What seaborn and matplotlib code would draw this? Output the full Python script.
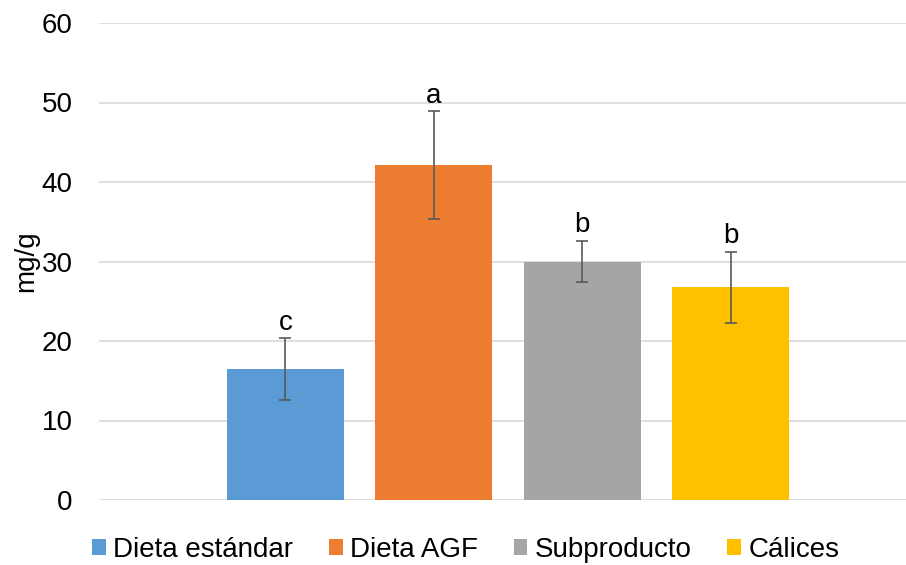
import matplotlib
matplotlib.use("Agg")
import matplotlib.pyplot as plt
import seaborn as sns
import pandas as pd

# Mean mg/g per diet, standard deviation and significance letters
series = ["Dieta estándar", "Dieta AGF", "Subproducto", "Cálices"]
means = [16.45, 42.1, 30.0, 26.75]
errors = [3.9, 6.8, 2.6, 4.5]
letters = ["c", "a", "b", "b"]
colors = ["#5B9BD5", "#ED7D31", "#A5A5A5", "#FFC000"]
yticks = [0, 10, 20, 30, 40, 50, 60]

sns.set_theme(style="white")
plt.rcParams["font.family"] = ["Liberation Sans", "DejaVu Sans"]

df = pd.DataFrame({"grupo": [""] * len(series), "serie": series, "valor": means})

fig = plt.figure(figsize=(9.06, 5.65), dpi=100)
ax = fig.add_axes([99 / 906, 1 - 500 / 565, 818 / 906, 477 / 565])

sns.barplot(data=df, x="grupo", y="valor", hue="serie", hue_order=series,
            palette=colors, errorbar=None, width=0.8, gap=0.21,
            saturation=1, linewidth=0, ax=ax)

# Error bars and letters centred on each drawn bar
bars = [p for p in ax.patches if p.get_height() > 0][:len(series)]
bars.sort(key=lambda p: p.get_x())
for bar, m, e, lab in zip(bars, means, errors, letters):
    xc = bar.get_x() + bar.get_width() / 2
    ax.errorbar(xc, m, yerr=e, color="#595959", elinewidth=1.2,
                capsize=4, capthick=1.2, zorder=4)
    ax.annotate(lab, (xc, m + e), xytext=(0, 6), textcoords="offset points",
                ha="center", va="baseline", fontsize=20, color="black")

ax.set_xlim(-0.551, 0.551)
ax.set_ylim(0, 60)
ax.set_yticks(yticks)
ax.set_xticks([])
ax.set_xlabel("")
ax.yaxis.grid(True, color="#D9D9D9", linewidth=1.2)
ax.set_axisbelow(True)
for s in ax.spines.values():
    s.set_visible(False)
ax.tick_params(axis="y", length=0, pad=19, labelsize=20, labelcolor="black")
ax.set_ylabel("mg/g", fontsize=20, color="black", labelpad=1.5)

sns.move_legend(ax, "center", bbox_to_anchor=(465.5 / 906, 1 - 550 / 565),
                bbox_transform=fig.transFigure, ncol=4, frameon=False,
                title=None, fontsize=20, handlelength=0.5, handleheight=0.5,
                handletextpad=0.25, columnspacing=1.3)
for t in ax.get_legend().get_texts():
    t.set_color("black")

fig.savefig("out.png", dpi=100)
